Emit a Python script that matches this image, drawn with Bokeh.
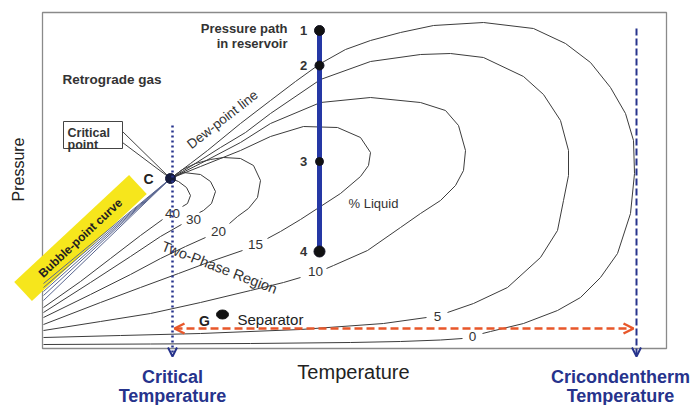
from bokeh.plotting import figure
from bokeh.models import Range1d, Arrow, OpenHead
from bokeh.core.properties import value
from bokeh.embed import file_html
from bokeh.resources import INLINE

# ---------------- data (temperature T, pressure read as picture row Y) ----------------
CRIT_T, CRIT_Y = 170, 178

# quality lines (% liquid): loop branch from the critical point to the label
Q0_LOOP_T = [170, 190, 207, 240, 270, 295, 320, 345, 370, 400, 433, 483, 533, 565, 590, 610, 625, 633, 634, 630, 617, 600, 580, 557, 523, 490, 482]
Q0_LOOP_Y = [178, 163, 150, 123, 100, 81, 63, 49, 40, 32, 25, 22, 28, 43, 62, 87, 113, 140, 173, 213, 253, 277, 297, 310, 323, 331, 333]
Q5_LOOP_T = [170, 190, 220, 245, 270, 320, 370, 420, 450, 483, 523, 543, 560, 568, 568, 563, 557, 540, 507, 473, 447]
Q5_LOOP_Y = [178, 166, 147, 132, 113, 79, 61, 54, 53, 57, 76, 94, 120, 150, 175, 200, 230, 257, 287, 303, 312]
Q10_LOOP_T = [170, 200, 240, 270, 320, 370, 420, 445, 458, 465, 463, 455, 440, 420, 400, 367, 333, 326]
Q10_LOOP_Y = [178, 163, 142, 123, 102, 97, 102, 110, 125, 150, 170, 185, 200, 213, 227, 250, 265, 268]
Q15_LOOP_T = [170, 200, 240, 270, 303, 337, 360, 370, 368, 360, 340, 320, 300, 280, 267]
Q15_LOOP_Y = [178, 166, 150, 136, 126, 127, 137, 152, 165, 176, 193, 206, 219, 231, 238]
Q20_LOOP_T = [170, 182, 195, 210, 223, 240, 253, 260, 257, 248, 237, 229]
Q20_LOOP_Y = [178, 169, 163, 159, 157, 158, 165, 180, 197, 208, 216, 223]
Q30_LOOP_T = [170, 183, 200, 210, 215, 211, 203, 199]
Q30_LOOP_Y = [178, 172, 174, 181, 191, 203, 210, 212]
Q40_LOOP_T = [170, 178, 186, 190, 187, 182]
Q40_LOOP_Y = [178, 181, 187, 195, 203, 206]

# low-temperature branch from the label to the left edge
Q0_LEFT_T = [462, 440, 400, 350, 250, 150, 43]
Q0_LEFT_Y = [338, 339.5, 341, 342, 343, 343.5, 344]
Q5_LEFT_T = [426, 383, 300, 200, 120, 43]
Q5_LEFT_Y = [317, 323, 329, 333, 335, 337]
Q10_LEFT_T = [300, 283, 250, 200, 150, 100, 43]
Q10_LEFT_Y = [277, 282, 290, 302, 313, 321, 330]
Q15_LEFT_T = [242, 210, 178, 140, 100, 43]
Q15_LEFT_Y = [250, 261, 273, 287, 302, 324]
Q20_LEFT_T = [205, 185, 160, 130, 90, 43]
Q20_LEFT_Y = [237, 246, 258, 274, 294, 317]
Q30_LEFT_T = [181, 160, 130, 90, 43]
Q30_LEFT_Y = [224, 236, 256, 282, 312]
Q40_LEFT_T = [162, 140, 110, 80, 43]
Q40_LEFT_Y = [219, 235, 258, 281, 307]

# percent labels
PCT_TEXT = ["40", "30", "20", "15", "10", "5", "0"]
PCT_T = [172, 193, 218, 255, 315, 437, 472]
PCT_Y = [213, 219, 231, 244, 271, 316, 336]

# high-liquid lines (bubble-point bundle) from the critical point to the left edge
BUNDLE_EDGE_T = 43
BUNDLE_EDGE_Y = [283, 287, 291, 295, 300]

# reservoir pressure path
PATH_T = 319
PATH_Y = [30, 65, 161, 251]
PATH_LABELS = ["1", "2", "3", "4"]

# separator point
SEP_T, SEP_Y = 222, 314

# characteristic temperatures
CRIT_TEMP_T = 172
CRICOND_T = 636

# ---------------- figure ----------------
H = 405
def P(ys):
    return [H - v for v in ys]

FONT = value("Liberation Sans")
NAVY = "#26338c"
ORANGE = "#e8572a"
LINE = "#3c3c3c"
BUNDLE = "#5a6690"

p = figure(width=699, height=405, x_range=Range1d(0, 699), y_range=Range1d(0, 405),
           output_backend="svg", toolbar_location=None, min_border=0,
           x_axis_location=None, y_axis_location=None)
p.grid.visible = False
p.outline_line_color = None
p.background_fill_color = "white"
p.border_fill_color = "white"

# plot box
p.quad(left=42, right=666, top=H - 12, bottom=H - 348, fill_color=None,
       line_color="#8a8a8a", line_width=1.3)

# yellow bubble-point label box
p.rect(x=80, y=H - 237.5, width=157, height=26, angle=43, angle_units="deg",
       width_units="screen", height_units="screen", fill_color="#f6e61c", line_color=None)
p.text(x=[80], y=[H - 237.5], text=["Bubble-point curve"], angle=43, angle_units="deg",
       text_font=FONT, text_font_size="12px", text_font_style="bold", text_color="#222222",
       text_align="center", text_baseline="middle")

# bubble-point bundle
for ye in BUNDLE_EDGE_Y:
    p.line([CRIT_T, BUNDLE_EDGE_T], P([CRIT_Y, ye]), line_color=BUNDLE, line_width=1)

# quality lines
loops = [(Q0_LOOP_T, Q0_LOOP_Y), (Q5_LOOP_T, Q5_LOOP_Y), (Q10_LOOP_T, Q10_LOOP_Y),
         (Q15_LOOP_T, Q15_LOOP_Y), (Q20_LOOP_T, Q20_LOOP_Y), (Q30_LOOP_T, Q30_LOOP_Y),
         (Q40_LOOP_T, Q40_LOOP_Y)]
lefts = [(Q0_LEFT_T, Q0_LEFT_Y), (Q5_LEFT_T, Q5_LEFT_Y), (Q10_LEFT_T, Q10_LEFT_Y),
         (Q15_LEFT_T, Q15_LEFT_Y), (Q20_LEFT_T, Q20_LEFT_Y), (Q30_LEFT_T, Q30_LEFT_Y),
         (Q40_LEFT_T, Q40_LEFT_Y)]
for t, y in loops + lefts:
    p.line(t, P(y), line_color=LINE, line_width=1)

p.text(x=PCT_T, y=P(PCT_Y), text=PCT_TEXT, text_font=FONT, text_font_size="13.5px",
       text_color="#333333", text_align="center", text_baseline="middle")

# critical point callout
p.quad(left=63, right=122, top=H - 121, bottom=H - 148, fill_color="white",
       line_color="#444444", line_width=1)
p.line([122, CRIT_T], P([131, CRIT_Y]), line_color="#444444", line_width=1)
p.line([122, CRIT_T], P([142, CRIT_Y]), line_color="#444444", line_width=1)
p.text(x=[67, 67], y=P([132, 144]), text=["Critical", "point"], text_font=FONT,
       text_font_size="12.5px", text_font_style="bold", text_color="#333333",
       text_baseline="alphabetic")

# critical temperature (dotted) and cricondentherm (dashed) arrows
p.add_layout(Arrow(x_start=CRIT_TEMP_T, y_start=H - 125, x_end=CRIT_TEMP_T, y_end=H - 356,
                   line_color=NAVY, line_width=2.5, line_dash="2 3",
                   end=OpenHead(size=9, line_color=NAVY, line_width=2)))
p.add_layout(Arrow(x_start=CRICOND_T, y_start=H - 28, x_end=CRICOND_T, y_end=H - 356,
                   line_color=NAVY, line_width=2, line_dash="7 3",
                   end=OpenHead(size=9, line_color=NAVY, line_width=2)))
# horizontal orange range arrow
p.add_layout(Arrow(x_start=CRIT_TEMP_T + 2, y_start=H - 328, x_end=CRICOND_T - 3, y_end=H - 328,
                   line_color=ORANGE, line_width=2.5, line_dash="8 4",
                   start=OpenHead(size=10, line_color=ORANGE, line_width=2.5),
                   end=OpenHead(size=10, line_color=ORANGE, line_width=2.5)))

# critical point marker
p.scatter([CRIT_T], P([CRIT_Y]), size=10, fill_color="#141a3c", line_color="#141a3c")
p.text(x=[148], y=P([178]), text=["C"], text_font=FONT, text_font_size="14px",
       text_font_style="bold", text_color="#222222", text_align="center", text_baseline="middle")

# reservoir pressure path
p.line([PATH_T, PATH_T], P([PATH_Y[0], PATH_Y[-1]]), line_color="#2538a5", line_width=5)
p.scatter([PATH_T] * 4, P(PATH_Y), size=[10, 9, 8, 11], fill_color="#111111",
          line_color="#111122", line_width=1)
p.text(x=[PATH_T - 16] * 4, y=P(PATH_Y), text=PATH_LABELS, text_font=FONT,
       text_font_size="13px", text_font_style="bold", text_color="#333333",
       text_align="center", text_baseline="middle")

# separator
p.ellipse([SEP_T], P([SEP_Y]), width=12, height=9, width_units="screen", height_units="screen",
          fill_color="#111111", line_color="#111111")
p.text(x=[SEP_T - 18], y=P([SEP_Y + 6]), text=["G"], text_font=FONT, text_font_size="14px",
       text_font_style="bold", text_color="#222222", text_align="center", text_baseline="alphabetic")
p.text(x=[SEP_T + 15], y=P([SEP_Y + 5]), text=["Separator"], text_font=FONT,
       text_font_size="15px", text_color="#222222", text_align="left", text_baseline="alphabetic")

# annotations inside the diagram
p.text(x=[287, 287], y=P([28, 43]), text=["Pressure path", "in reservoir"], text_font=FONT,
       text_font_size="13px", text_font_style="bold", text_color="#333333",
       text_align="right", text_baseline="alphabetic")
p.text(x=[62], y=P([79]), text=["Retrograde gas"], text_font=FONT, text_font_size="13.5px",
       text_font_style="bold", text_color="#333333", text_baseline="alphabetic")
p.text(x=[222], y=P([119]), text=["Dew-point line"], angle=38, angle_units="deg",
       text_font=FONT, text_font_size="13.5px", text_color="#333333",
       text_align="center", text_baseline="middle")
p.text(x=[219], y=P([267]), text=["Two-Phase Region"], angle=-21, angle_units="deg",
       text_font=FONT, text_font_size="14.5px", text_color="#333333",
       text_align="center", text_baseline="middle")
p.text(x=[348], y=P([203]), text=["% Liquid"], text_font=FONT, text_font_size="13px",
       text_color="#333333", text_baseline="alphabetic")

# axis titles
p.text(x=[18], y=P([169]), text=["Pressure"], angle=90, angle_units="deg", text_font=FONT,
       text_font_size="16px", text_color="#222222", text_align="center", text_baseline="middle")
p.text(x=[353], y=P([371]), text=["Temperature"], text_font=FONT, text_font_size="20px",
       text_color="#222222", text_align="center", text_baseline="alphabetic")

# characteristic temperature titles
p.text(x=[CRIT_TEMP_T, CRIT_TEMP_T], y=P([376, 395]), text=["Critical", "Temperature"],
       text_font=FONT, text_font_size="18px", text_font_style="bold", text_color=NAVY,
       text_align="center", text_baseline="alphabetic")
p.text(x=[620, 620], y=P([376, 395]), text=["Cricondentherm", "Temperature"],
       text_font=FONT, text_font_size="18px", text_font_style="bold", text_color=NAVY,
       text_align="center", text_baseline="alphabetic")

open("out.html", "w").write(file_html(p, INLINE))
